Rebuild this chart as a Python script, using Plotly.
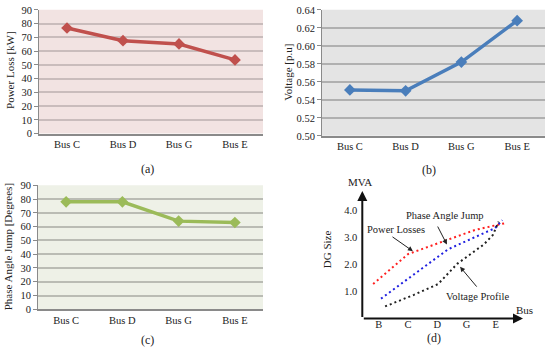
import plotly.graph_objects as go

# ---------------- data ----------------
buses = ["Bus C", "Bus D", "Bus G", "Bus E"]
power_loss = [76.8, 67.6, 65.2, 53.6]
voltage = [0.551, 0.550, 0.582, 0.628]
phase_jump = [78, 78, 64, 63]

d_bus_labels = ["B", "C", "D", "G", "E"]
d_bus_pos = [1, 2, 3, 4, 5]
d_yticks = [1, 2, 3, 4]
d_ytick_labels = ["1.0", "2.0", "3.0", "4.0"]

loss_x = [0.81, 2.0, 3.37, 4.3, 5.32]
loss_y = [1.28, 2.39, 2.93, 3.29, 3.54]
pang_x = [1.08, 3.37, 4.98, 5.22]
pang_y = [0.74, 2.57, 3.36, 3.65]
volt_x = [1.22, 2.2, 3.03, 3.68, 4.59, 4.9, 5.1]
volt_y = [0.45, 0.88, 1.28, 2.03, 2.75, 3.1, 3.6]

FONT = "'Liberation Serif', 'Times New Roman', 'DejaVu Serif', serif"
W, H = 550, 358


def px(x):
    return x / W


def py(y):
    return 1 - y / H


fig = go.Figure()

# panel (a)
fig.add_trace(go.Scatter(x=buses, y=power_loss, mode="lines+markers",
                         line=dict(color="#c0504d", width=3.5),
                         marker=dict(symbol="diamond", size=9, color="#c0504d"),
                         xaxis="x", yaxis="y", showlegend=False))
# panel (b)
fig.add_trace(go.Scatter(x=buses, y=voltage, mode="lines+markers",
                         line=dict(color="#4a7ebb", width=3.5),
                         marker=dict(symbol="diamond", size=9, color="#4a7ebb"),
                         xaxis="x2", yaxis="y2", showlegend=False))
# panel (c)
fig.add_trace(go.Scatter(x=buses, y=phase_jump, mode="lines+markers",
                         line=dict(color="#9bbb59", width=3.5),
                         marker=dict(symbol="diamond", size=9, color="#9bbb59"),
                         xaxis="x3", yaxis="y3", showlegend=False))
# panel (d)
for xs, ys, col in [(loss_x, loss_y, "#ff2020"), (pang_x, pang_y, "#2020e0"),
                    (volt_x, volt_y, "#202020")]:
    fig.add_trace(go.Scatter(x=xs, y=ys, mode="lines",
                             line=dict(color=col, width=2, dash="2px,3px"),
                             xaxis="x4", yaxis="y4", showlegend=False))

tickfont = dict(family=FONT, size=10.5, color="#222")


def cat_x(domain, anchor):
    return dict(domain=domain, anchor=anchor, type="category", range=[-0.5, 3.5],
                showgrid=False, zeroline=False, showline=True, linecolor="#8a8a8a",
                linewidth=1.5, ticks="", tickfont=tickfont, ticklabelstandoff=0)


def val_y(domain, anchor, rng, dtick, grid, fmt=None):
    d = dict(domain=domain, anchor=anchor, range=rng, dtick=dtick, showgrid=True,
             gridcolor=grid, gridwidth=1.5, zeroline=False, showline=True,
             linecolor="#8a8a8a", linewidth=1, ticks="outside", ticklen=4,
             tickcolor="#8a8a8a", tickfont=tickfont)
    if fmt:
        d["tickformat"] = fmt
    return d


fig.update_layout(
    width=W, height=H, margin=dict(l=0, r=0, t=0, b=0),
    paper_bgcolor="white", plot_bgcolor="white",
    font=dict(family=FONT, size=10, color="#222"),
    xaxis=cat_x([px(39), px(263)], "y"),
    yaxis=val_y([py(132.7), py(5)], "x", [0, 90], 10, "#c9bcbc"),
    xaxis2=cat_x([px(322), px(545)], "y2"),
    yaxis2=val_y([py(135), py(5)], "x2", [0.5, 0.64], 0.02, "#b0b0b0", ".2f"),
    xaxis3=cat_x([px(38), px(263)], "y3"),
    yaxis3=val_y([py(314), py(186)], "x3", [0, 90], 10, "#babcb4"),
    xaxis4=dict(domain=[px(362.3), px(523)], anchor="y4", range=[0.44, 5.93],
                showgrid=False, zeroline=False, showline=False,
                tickvals=d_bus_pos, ticktext=d_bus_labels, ticks="",
                tickfont=tickfont, ticklabelstandoff=-2),
    yaxis4=dict(domain=[py(323.5), py(192)], anchor="x4", range=[0, 4.73],
                showgrid=False, zeroline=False, showline=False,
                tickvals=d_yticks, ticktext=d_ytick_labels, ticks="",
                tickfont=tickfont, ticklabelstandoff=4),
)

# background fills for panels a-c
shapes = []
for xr, yr, col in [("x", "y", "#f2e3e2"), ("x2", "y2", "#e4e4e4"), ("x3", "y3", "#eef1e7")]:
    shapes.append(dict(type="rect", xref=xr + " domain", yref=yr + " domain",
                       x0=0, x1=1, y0=0, y1=1, fillcolor=col, line=dict(width=0),
                       layer="below"))
fig.update_layout(shapes=shapes)

ann = []
# y-axis titles
for text, x, y in [("Power Loss [kW]", 10, 67), ("Voltage [p.u]", 288, 70),
                   ("Phase Angle Jump [Degrees]", 8, 250), ("DG Size", 327, 252)]:
    ann.append(dict(text=text, x=px(x), y=py(y), xref="paper", yref="paper",
                    showarrow=False, textangle=-90, font=dict(family=FONT, size=11, color="#222"),
                    xanchor="center", yanchor="middle"))
# panel labels
for text, x, y in [("(a)", 147, 169), ("(b)", 429, 170), ("(c)", 147, 346), ("(d)", 434, 344)]:
    ann.append(dict(text=text, x=px(x), y=py(y), xref="paper", yref="paper",
                    showarrow=False, font=dict(family=FONT, size=12, color="#222"),
                    xanchor="center", yanchor="middle"))
# axis labels of (d)
ann.append(dict(text="MVA", x=px(360), y=py(183), xref="paper", yref="paper", showarrow=False,
                font=dict(family=FONT, size=11, color="#222")))
ann.append(dict(text="Bus", x=px(535), y=py(323), xref="paper", yref="paper", showarrow=False,
                font=dict(family=FONT, size=11, color="#222")))
# axis arrows of (d)
ann.append(dict(x=0.44, y=4.73, ax=0.44, ay=0, xref="x4", yref="y4", axref="x4", ayref="y4",
                text="", showarrow=True, arrowhead=2, arrowsize=1, arrowwidth=2, arrowcolor="#111"))
ann.append(dict(x=5.93, y=0, ax=0.44, ay=0, xref="x4", yref="y4", axref="x4", ayref="y4",
                text="", showarrow=True, arrowhead=2, arrowsize=1, arrowwidth=2, arrowcolor="#111"))
# curve labels of (d)
for text, x, y in [("Power Losses", 1.59, 3.29), ("Phase Angle Jump", 3.27, 3.83),
                   ("Voltage Profile", 4.39, 0.81)]:
    ann.append(dict(text=text, x=x, y=y, xref="x4", yref="y4", showarrow=False,
                    font=dict(family=FONT, size=10.5, color="#222")))
for (hx, hy, tx, ty) in [(2.17, 2.50, 1.42, 3.07), (3.33, 2.75, 2.99, 3.47), (3.78, 1.92, 4.39, 1.13)]:
    ann.append(dict(x=hx, y=hy, ax=tx, ay=ty, xref="x4", yref="y4", axref="x4", ayref="y4",
                    text="", showarrow=True, arrowhead=2, arrowsize=1, arrowwidth=1,
                    arrowcolor="#222"))
fig.update_layout(annotations=ann)

fig.write_html("out.html", config={"displayModeBar": False},
               post_script="document.body.style.margin='0px';")
